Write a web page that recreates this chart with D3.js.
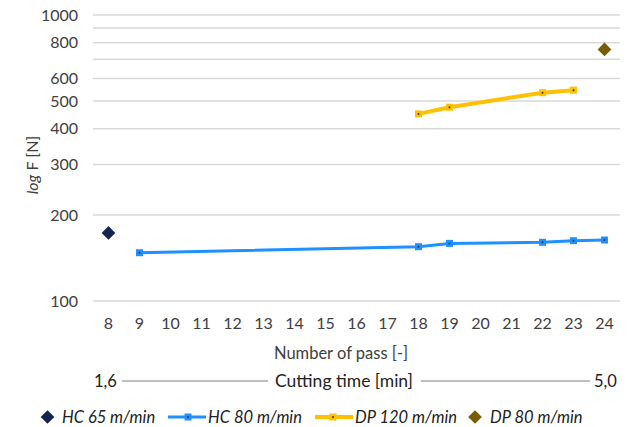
<!DOCTYPE html>
<html><head><meta charset="utf-8">
<script src="https://cdn.jsdelivr.net/npm/d3@7"></script>
<style>
html,body{margin:0;padding:0;background:#fff;}
svg{display:block;}
text{font-family:Lato,"Open Sans",sans-serif;}
</style></head>
<body><svg id="chart" width="628" height="427"></svg>
<script>
const categories = ["8","9","10","11","12","13","14","15","16","17","18","19","20","21","22","23","24"];
const yTicks = [100,200,300,400,500,600,800,1000];
const yGrid = [100,200,300,400,500,600,700,800,900,1000];
const hc65 = [{x:"8", y:173}];
const hc80 = [{x:"9",y:147.5},{x:"18",y:154.8},{x:"19",y:159},{x:"22",y:160.4},{x:"23",y:162.5},{x:"24",y:163.4}];
const dp120 = [{x:"18",y:451},{x:"19",y:476},{x:"22",y:535},{x:"23",y:546}];
const dp80 = [{x:"24",y:758}];
const xTitle = "Number of pass [-]";
const timeTitle = "Cutting time [min]";
const timeStart = "1,6", timeEnd = "5,0";
const legendNames = ["HC 65 m/min","HC 80 m/min","DP 120 m/min","DP 80 m/min"];
const colors = {navy:"#13254f", blue:"#1e90ff", yellow:"#ffc000", brown:"#7a5c00"};

(function(){
const svg = d3.select("#chart");
const pL = 93, pR = 620, pT = 15, pB = 301;
const x = d3.scaleBand().domain(categories).range([pL, pR]);
const xc = d => x(d) + x.bandwidth()/2;
const y = d3.scaleLog().domain([100,1000]).range([pB, pT]);
const txt = "#404040";

svg.append("g").selectAll("line").data(yGrid).join("line")
  .attr("x1", pL).attr("x2", pR)
  .attr("y1", d => y(d)).attr("y2", d => y(d))
  .attr("stroke", "#d9d9d9").attr("stroke-width", 1.5);

const yAxis = d3.axisLeft(y).tickValues(yTicks).tickFormat(d3.format("d")).tickSize(0).tickPadding(15);
const gy = svg.append("g").attr("transform", `translate(${pL},0)`).call(yAxis);
gy.select(".domain").remove();
gy.selectAll("text").attr("fill", txt).style("font-size","16px").style("font-family","Lato,sans-serif");

const xAxis = d3.axisBottom(x).tickSize(0).tickPadding(17);
const gx = svg.append("g").attr("transform", `translate(0,${pB})`).call(xAxis);
gx.select(".domain").remove();
gx.selectAll("text").attr("fill", txt).style("font-size","16px").style("font-family","Lato,sans-serif");

svg.append("text").attr("x", 341).attr("y", 359).attr("text-anchor","middle")
  .attr("fill", txt).style("font-size","16.5px").text(xTitle);
const yl = svg.append("text").attr("transform","translate(38,165) rotate(-90)").attr("text-anchor","middle")
  .attr("fill", txt).style("font-size","16px");
yl.append("tspan").style("font-style","italic").text("log");
yl.append("tspan").text(" F [N]");

const rowY = 381;
svg.append("text").attr("x", 105.5).attr("y", rowY+6).attr("text-anchor","middle").attr("fill","#222").style("font-size","16.5px").text(timeStart);
svg.append("text").attr("x", 605.5).attr("y", rowY+6).attr("text-anchor","middle").attr("fill","#222").style("font-size","16.5px").text(timeEnd);
svg.append("text").attr("x", 344).attr("y", rowY+6).attr("text-anchor","middle").attr("fill","#222").style("font-size","17.5px").text(timeTitle);
svg.append("line").attr("x1",122).attr("x2",268).attr("y1",rowY).attr("y2",rowY).attr("stroke","#808080").attr("stroke-width",1);
svg.append("line").attr("x1",421).attr("x2",590).attr("y1",rowY).attr("y2",rowY).attr("stroke","#808080").attr("stroke-width",1);

const line = d3.line().x(d => xc(d.x)).y(d => y(d.y));
function lineSeries(data, color, w){
  svg.append("path").datum(data).attr("d", line).attr("fill","none")
    .attr("stroke", color).attr("stroke-width", w).attr("stroke-linejoin","round");
  const g = svg.append("g");
  g.selectAll("rect").data(data).join("rect")
    .attr("x", d => xc(d.x)-3.5).attr("y", d => y(d.y)-3.5).attr("width",7).attr("height",7)
    .attr("fill", color);
  g.selectAll("circle").data(data).join("circle")
    .attr("cx", d => xc(d.x)).attr("cy", d => y(d.y)).attr("r",1).attr("fill","#333");
}
lineSeries(hc80, colors.blue, 3);
lineSeries(dp120, colors.yellow, 4);
const diamond = d3.symbol().type(d3.symbolDiamond2).size(120);
function diamonds(data, color){
  svg.append("g").selectAll("path").data(data).join("path")
    .attr("d", diamond).attr("transform", d => `translate(${xc(d.x)},${y(d.y)})`)
    .attr("fill", color);
}
diamonds(hc65, colors.navy);
diamonds(dp80, colors.brown);

const ly = 417;
const lg = svg.append("g");
function legText(xp, s){
  lg.append("text").attr("x", xp).attr("y", ly+6).attr("fill","#222").style("font-size","16.5px").style("font-style","italic").text(s);
}
lg.append("path").attr("d", diamond).attr("transform",`translate(47.5,${ly})`).attr("fill", colors.navy);
legText(62, legendNames[0]);
lg.append("line").attr("x1",168).attr("x2",206).attr("y1",ly).attr("y2",ly).attr("stroke",colors.blue).attr("stroke-width",3);
lg.append("rect").attr("x",184.5).attr("y",ly-3.5).attr("width",7).attr("height",7).attr("fill",colors.blue);
lg.append("circle").attr("cx",188).attr("cy",ly).attr("r",1).attr("fill","#333");
legText(208, legendNames[1]);
lg.append("line").attr("x1",315).attr("x2",353).attr("y1",ly).attr("y2",ly).attr("stroke",colors.yellow).attr("stroke-width",4);
lg.append("rect").attr("x",329.5).attr("y",ly-3.5).attr("width",7).attr("height",7).attr("fill",colors.yellow);
lg.append("circle").attr("cx",333).attr("cy",ly).attr("r",1).attr("fill","#333");
legText(355, legendNames[2]);
lg.append("path").attr("d", diamond).attr("transform",`translate(475,${ly})`).attr("fill", colors.brown);
legText(490, legendNames[3]);
})();
</script></body></html>
